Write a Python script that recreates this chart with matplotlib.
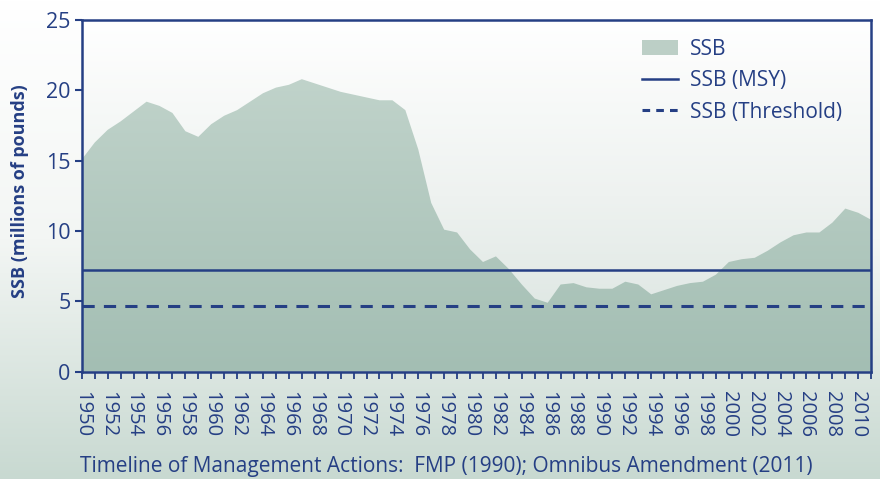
import numpy as np
import matplotlib
matplotlib.use("Agg")
import matplotlib.pyplot as plt
from matplotlib.patches import Patch
from matplotlib.lines import Line2D
from matplotlib.colors import LinearSegmentedColormap

plt.rcParams['font.family'] = ['Open Sans', 'DejaVu Sans']

years = list(range(1950, 2012))
ssb = [15.1, 16.3, 17.2, 17.8, 18.5, 19.2, 18.9, 18.4, 17.1, 16.7,
       17.6, 18.2, 18.6, 19.2, 19.8, 20.2, 20.4, 20.8, 20.5, 20.2,
       19.9, 19.7, 19.5, 19.3, 19.3, 18.6, 15.8, 12.0, 10.1, 9.9,
       8.7, 7.8, 8.2, 7.3, 6.2, 5.2, 4.9, 6.2, 6.3, 6.0,
       5.9, 5.9, 6.4, 6.2, 5.5, 5.8, 6.1, 6.3, 6.4, 6.9,
       7.8, 8.0, 8.1, 8.6, 9.2, 9.7, 9.9, 9.9, 10.6, 11.6,
       11.3, 10.8]
ssb_msy = 7.2
ssb_threshold = 4.7
label_years = list(range(1950, 2011, 2))

navy = '#253f84'

fig = plt.figure(figsize=(8.8, 4.79), dpi=100)

# figure background gradient
bg = fig.add_axes([0, 0, 1, 1], zorder=-10)
bg_cmap = LinearSegmentedColormap.from_list('bg', ['#ffffff', '#f3f6f4', '#c8d9d1'])
bg.imshow(np.linspace(0, 1, 256).reshape(-1, 1), aspect='auto', cmap=bg_cmap,
          extent=[0, 1, 1, 0])
bg.set_axis_off()

ax = fig.add_axes([0.093, 0.224, 0.897, 0.734])
ax.set_xlim(1950, 2011)
ax.set_ylim(0, 25)

# plot area gradient
pa_cmap = LinearSegmentedColormap.from_list('pa', ['#ffffff', '#eef2f0', '#d8e3de'])
ax.imshow(np.linspace(0, 1, 256).reshape(-1, 1), aspect='auto', cmap=pa_cmap,
          extent=[1950, 2011, 0, 25], origin='upper', zorder=0)

# area with vertical gradient
poly = ax.fill_between(years, ssb, 0, color='none', zorder=1)
area_cmap = LinearSegmentedColormap.from_list('ar', ['#c6d7cf', '#a3beb3'])
grad = ax.imshow(np.linspace(0, 1, 256).reshape(-1, 1), aspect='auto', cmap=area_cmap,
                 extent=[1950, 2011, 0, 25], origin='upper', zorder=1)
grad.set_clip_path(poly.get_paths()[0], transform=ax.transData)

ax.axhline(ssb_msy, color=navy, lw=1.8, zorder=3)
ax.axhline(ssb_threshold, color=navy, lw=2.2, ls=(0, (4, 3)), zorder=3)

for s in ax.spines.values():
    s.set_color(navy)
    s.set_linewidth(1.8)
    s.set_zorder(4)

ax.set_yticks(range(0, 26, 5))
ax.tick_params(axis='y', colors=navy, labelsize=15.5, length=5, width=1.5, pad=3)
ax.set_xticks(years, minor=True)
ax.set_xticks(label_years)
ax.set_xticklabels([str(y) for y in label_years], rotation=270, fontsize=14.5)
ax.tick_params(axis='x', which='both', colors=navy, length=5, width=1.3, pad=9)
for t in ax.get_yticklabels() + ax.get_xticklabels():
    t.set_color(navy)

fig.text(0.023, 0.60, 'SSB (millions of pounds)', rotation=90, ha='center', va='center',
         fontsize=13, fontweight='bold', color=navy)
fig.text(0.091, 0.014, 'Timeline of Management Actions:  FMP (1990); Omnibus Amendment (2011)',
         ha='left', va='baseline', fontsize=15, color=navy)

handles = [Patch(facecolor='#bccfc6', edgecolor='none', label='SSB'),
           Line2D([], [], color=navy, lw=1.8, label='SSB (MSY)'),
           Line2D([], [], color=navy, lw=2.2, ls=(0, (2.5, 2)), label='SSB (Threshold)')]
leg = ax.legend(handles=handles, loc='upper right', frameon=False, fontsize=15,
                labelcolor=navy, handlelength=1.7, handletextpad=0.6,
                labelspacing=0.5, bbox_to_anchor=(0.987, 1.0))

fig.savefig('out.png', dpi=100)
